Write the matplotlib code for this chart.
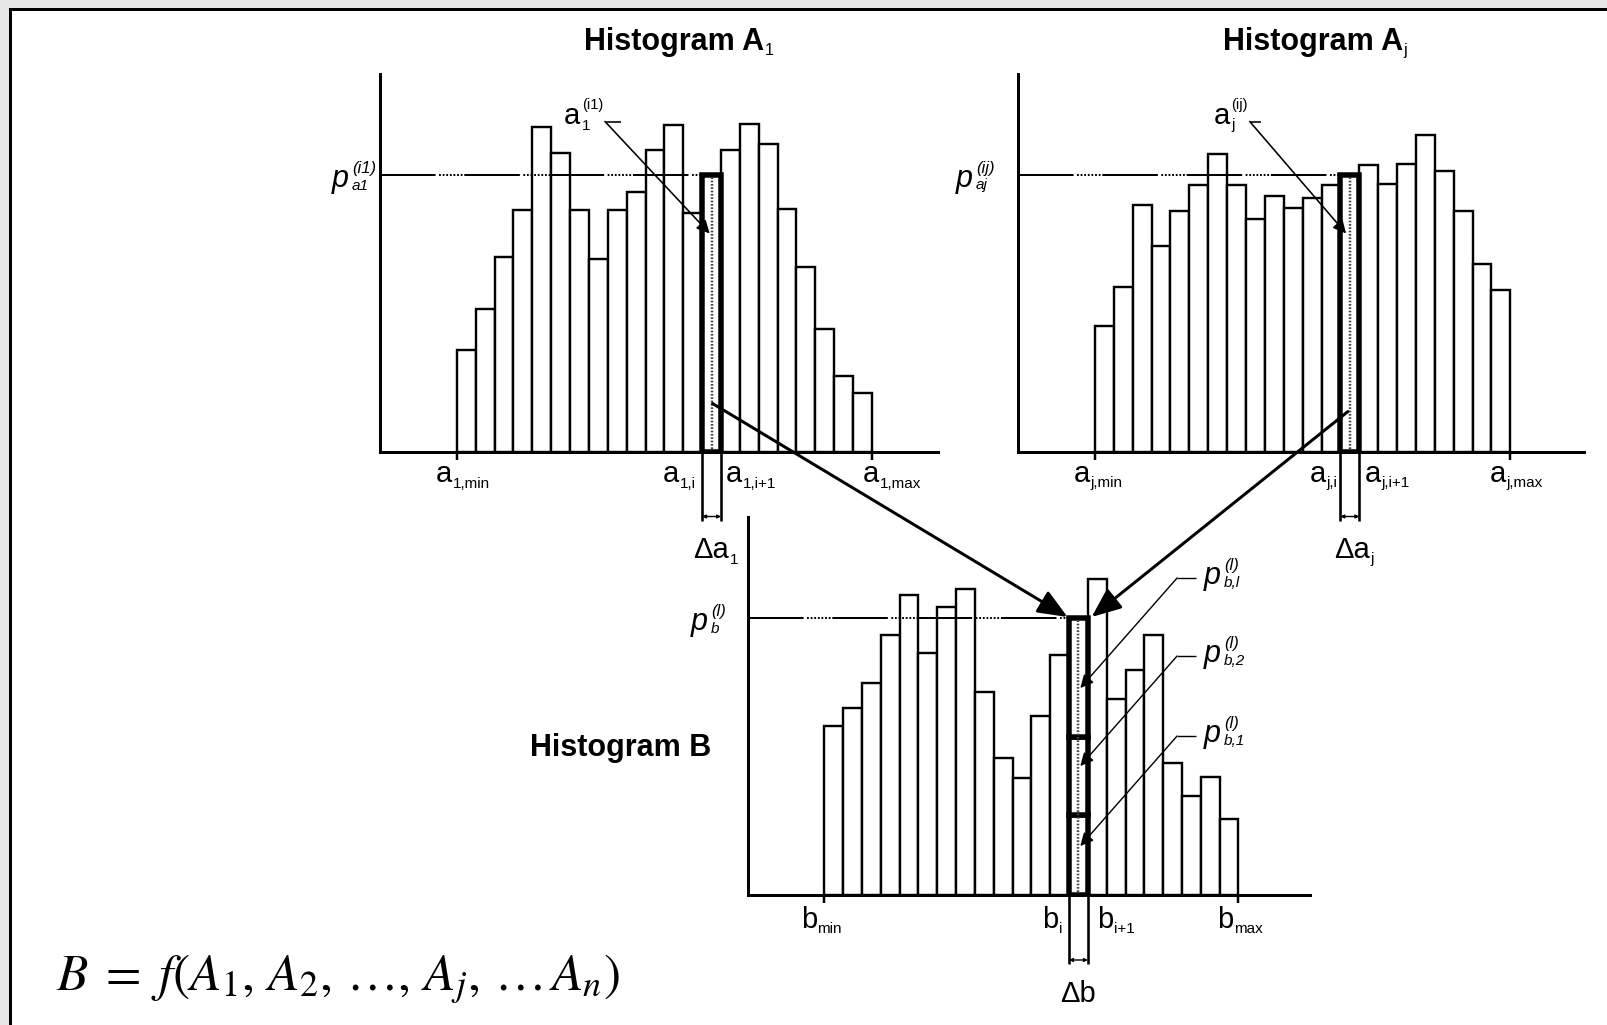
import matplotlib
matplotlib.use("Agg")
import matplotlib.pyplot as plt
import numpy as np
from matplotlib.patches import Rectangle, ConnectionPatch
from matplotlib.transforms import offset_copy

plt.rcParams["font.family"] = ["Liberation Sans", "DejaVu Sans"]
plt.rcParams["mathtext.fontset"] = "stix"
plt.rcParams["lines.scale_dashes"] = False

# ---------------------------------------------------------------- data
bins = np.arange(22)          # bin index of each histogram class
sel = 13                      # selected class i (A) / l (B)

freq_a1 = [102, 143, 195, 242, 325, 299, 242, 193, 242, 260, 302,
           327, 239, 277, 302, 328, 308, 243, 185, 123, 76, 59]
freq_aj = [126, 165, 247, 206, 241, 267, 298, 267, 233, 256, 244,
           254, 267, 277, 287, 268, 288, 317, 281, 241, 188, 162]
freq_b = [169, 187, 212, 260, 300, 242, 288, 306, 203, 137, 117,
          179, 240, 277, 316, 196, 225, 260, 132, 99, 118, 76]
# contributions p_b,1, p_b,2, p_b,l stacked in the selected class of B
b_parts = [80, 78, 119]
b_part_names = ["b,1", "b,2", "b,l"]

# ---------------------------------------------------------------- layout
W, H, DPI = 1608, 1025, 100
PT = 72 / DPI                 # points per pixel
YMAX = 378

fig = plt.figure(figsize=(W / DPI, H / DPI), dpi=DPI, facecolor="#e6e6e6")

bg = fig.add_axes([0, 0, 1, 1])
bg.set_xlim(0, W)
bg.set_ylim(H, 0)
bg.axis("off")
bg.add_patch(Rectangle((9.7, 8.7), 3000, 3000, facecolor="white",
                       edgecolor="black", lw=3 * PT))

DASH = (0, (40, 2.5) + (1.3, 1.3) * 7)


def hist_axes(box, xlim):
    x0, y0, x1, y1 = box
    ax = fig.add_axes([x0 / W, 1 - y1 / H, (x1 - x0) / W, (y1 - y0) / H])
    ax.set_xlim(*xlim)
    ax.set_ylim(0, YMAX)
    ax.patch.set_visible(False)
    for s in ("top", "right"):
        ax.spines[s].set_visible(False)
    for s in ("left", "bottom"):
        ax.spines[s].set_linewidth(3 * PT)
    ax.set_yticks([])
    ax.set_xticks([bins[0], bins[-1] + 1])
    ax.tick_params(axis="x", direction="out", length=8 * PT, width=2.5 * PT,
                   labelbottom=False)
    return ax


def rich(ax, x, y, main, sub=None, sup=None, *, transform=None, ha="left",
         dx=0, dy=0, size=21, subsize=11, supsize=10, sub_dy=-5, sup_dy=14,
         style="normal", weight="normal", gap=0.5):
    """Main text with stacked subscript/superscript; offsets in pixels."""
    transform = transform or ax.transData
    r = fig.canvas.get_renderer()
    pieces = [(ax.text(x, y, main, fontsize=size, style=style, weight=weight,
                       ha="left", va="baseline", transform=transform), 0)]
    if sub:
        pieces.append((ax.text(x, y, sub, fontsize=subsize, style=style,
                               ha="left", va="baseline", transform=transform),
                       sub_dy))
    if sup:
        pieces.append((ax.text(x, y, sup, fontsize=supsize, style=style,
                               ha="left", va="baseline", transform=transform),
                       sup_dy))
    widths = [t.get_window_extent(r).width * PT for t, _ in pieces]
    total = widths[0] + gap + (max(widths[1:]) if len(widths) > 1 else 0)
    start = dx * PT + {"left": 0, "center": -total / 2, "right": -total}[ha]
    for i, (t, ody) in enumerate(pieces):
        ox = start if i == 0 else start + widths[0] + gap
        t.set_transform(offset_copy(transform, fig=fig, x=ox,
                                    y=(dy + ody) * PT, units="points"))
        t.set_clip_on(False)


def draw_hist(ax, freq, parts=None):
    ax.bar(bins, freq, width=1, align="edge", facecolor="white",
           edgecolor="black", lw=2.4 * PT, zorder=2)
    if parts:
        ax.bar([sel] * len(parts), parts, width=1, align="edge",
               bottom=np.concatenate([[0], np.cumsum(parts)[:-1]]),
               facecolor="white", edgecolor="black", lw=5.5 * PT, zorder=3)
    else:
        ax.bar(sel, freq[sel], width=1, align="edge", facecolor="white",
               edgecolor="black", lw=5.5 * PT, zorder=3)
    ax.vlines(sel + 0.5, 3, freq[sel] - 3, colors="#444", lw=2.5 * PT,
              linestyles=(0, (1.2, 1.2)), zorder=4)
    ax.hlines(freq[sel], ax.get_xlim()[0], sel, colors="black", lw=2 * PT,
              linestyles=DASH, zorder=4)
    # class-width bracket below the axis
    ax.vlines([sel, sel + 1], 0, -69, colors="black", lw=2.6 * PT,
              clip_on=False, zorder=4)
    ax.annotate("", xy=(sel, -65), xytext=(sel + 1, -65),
                arrowprops=dict(arrowstyle="<|-|>", lw=1.4 * PT, color="black",
                                shrinkA=0, shrinkB=0, mutation_scale=5),
                annotation_clip=False)


def leader(ax, hook, tip, lw=1.6 * PT, ms=11):
    (hx0, hx1, hy) = hook
    ax.plot([hx0, hx1], [hy, hy], color="black", lw=lw, clip_on=False,
            zorder=6, solid_capstyle="butt")
    ax.annotate("", xy=tip, xytext=(hx0, hy),
                arrowprops=dict(arrowstyle="-|>,head_length=0.6,head_width=0.3",
                                lw=lw, color="black",
                                shrinkA=0, shrinkB=0, mutation_scale=ms),
                annotation_clip=False, zorder=6)


ax1 = hist_axes((380, 73.5, 938, 451.5), (-4.075, 25.5))
axj = hist_axes((1018.3, 73.5, 1584, 451.5), (-4.057, 25.9))
axb = hist_axes((747.6, 517, 1310, 895), (-4.075, 25.8))

draw_hist(ax1, freq_a1)
draw_hist(axj, freq_aj)
draw_hist(axb, freq_b, b_parts)

# ---------------------------------------------------------------- titles
rich(ax1, 0.5355, 1.0614, "Histogram A", "1", transform=ax1.transAxes,
     ha="center", size=22, weight="bold", subsize=11.5, sub_dy=-5)
rich(axj, 0.5245, 1.0614, "Histogram A", "j", transform=axj.transAxes,
     ha="center", size=22, weight="bold", subsize=11.5, sub_dy=-5)
rich(axb, -0.225, 0.3677, "Histogram B", transform=axb.transAxes,
     ha="center", size=22, weight="bold")

# ---------------------------------------------------------------- x labels
LY = -31
for ax, name in ((ax1, "1"), (axj, "j")):
    mdx = (6, 20) if name == "1" else (3, 6)
    rich(ax, 0, LY, "a", f"{name},min", ha="center", dx=mdx[0])
    rich(ax, 22, LY, "a", f"{name},max", ha="center", dx=mdx[1])
    rich(ax, sel, LY, "a", f"{name},i", ha="right", dx=-6 if name == "1" else -3)
    rich(ax, sel + 1, LY, "a", f"{name},i+1", ha="left", dx=5)
    rich(ax, sel + 0.5, -107, "\u0394a", name, ha="center", dx=4)

rich(axb, 0, -33, "b", "min", ha="center", dx=-3)
rich(axb, 22, -33, "b", "max", ha="center", dx=1)
rich(axb, sel, -33, "b", "i", ha="right", dx=-7)
rich(axb, sel + 1, -33, "b", "i+1", ha="left", dx=9)
rich(axb, sel + 0.5, -107, "\u0394b", ha="center", dx=0)

# ---------------------------------------------------------------- p labels
PKW = dict(size=22, subsize=11, supsize=12, sub_dy=-3, sup_dy=14,
           style="italic", gap=2)
rich(ax1, ax1.get_xlim()[0], freq_a1[sel], "p", "a1", "(i1)", ha="right",
     dx=-4, dy=-12, **PKW)
rich(axj, axj.get_xlim()[0], freq_aj[sel], "p", "aj", "(ij)", ha="right",
     dx=-24, dy=-12, **PKW)
rich(axb, axb.get_xlim()[0], freq_b[sel], "p", "b", "(l)", ha="right",
     dx=-22, dy=-12, **PKW)

# ---------------------------------------------------------------- values a^(i)
leader(ax1, (7.85, 8.72, 330), (13.4, 218), ms=13)
rich(ax1, 7.85, 330, "a", "1", "(i1)", ha="right", dx=-2, dy=-3,
     subsize=11, supsize=10.5, sup_dy=15, gap=1)
leader(axj, (8.2, 8.8, 330), (13.3, 218), ms=13)
rich(axj, 8.2, 330, "a", "j", "(ij)", ha="right", dx=-2, dy=-3,
     subsize=11, supsize=10.5, sup_dy=15, gap=1)

# ---------------------------------------------------------------- parts of p_b
bottoms = np.concatenate([[0], np.cumsum(b_parts)[:-1]])
for base, name in zip(bottoms, b_part_names):
    tip_y = base + 49
    hook_y = tip_y + 110
    leader(axb, (18.74, 19.75, hook_y), (sel + 0.6, tip_y), lw=1.4 * PT, ms=13)
    rich(axb, 20.17, hook_y, "p", name, "(l)", ha="left", dy=-6, **PKW)

# ---------------------------------------------------------------- mapping arrows
for src, start, end in ((ax1, (sel + 0.55, 48), (sel - 0.08, freq_b[sel] + 1)),
                        (axj, (sel + 0.4, 40), (sel + 1.2, freq_b[sel] + 1))):
    cp = ConnectionPatch(xyA=start, coordsA=src.transData, xyB=end,
                         coordsB=axb.transData,
                         arrowstyle="-|>,head_length=0.6,head_width=0.25",
                         mutation_scale=30, lw=3 * PT, color="black",
                         shrinkA=0, shrinkB=0, zorder=8)
    fig.add_artist(cp)

# ---------------------------------------------------------------- relation
bg.text(56, 990, r"$B\;=\;f(A_1,\, A_2,\, \ldots,\, A_j,\, \ldots\, A_n)$",
        fontsize=37, ha="left", va="baseline")

fig.savefig("out.png", dpi=DPI, facecolor=fig.get_facecolor())
